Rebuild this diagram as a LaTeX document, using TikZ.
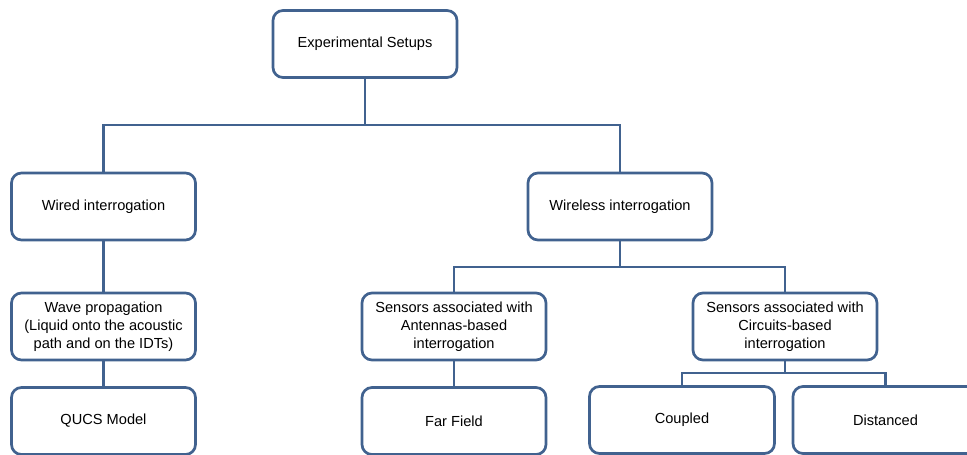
\documentclass[tikz,border=0pt]{standalone}
\usepackage{fontspec}
\setmainfont{Liberation Sans}
\definecolor{edgeblue}{HTML}{41628F}
\begin{document}
\begin{tikzpicture}[x=1pt,y=-1pt,
  box/.style={draw=edgeblue, line width=2.7pt, rounded corners=10pt, fill=white,
    minimum width=184pt, minimum height=67pt, align=center, inner sep=2pt,
    font=\fontsize{14.6pt}{18pt}\selectfont, text=black},
  link/.style={draw=edgeblue, line width=2.7pt}]
\useasboundingbox (0,0) rectangle (967,455);
\clip (0,0) rectangle (967,455);

% boxes
\node[box] (root) at (365,44) {Experimental Setups};
\node[box] (wired) at (103.5,206.5) {Wired interrogation};
\node[box] (wireless) at (620,206.5) {Wireless interrogation};
\node[box] (wave) at (103.5,326.5) {Wave propagation\\(Liquid onto the acoustic\\path and on the IDTs)};
\node[box] (ant) at (454,326.5) {Sensors associated with\\Antennas-based\\interrogation};
\node[box] (circ) at (785,326.5) {Sensors associated with\\Circuits-based\\interrogation};
\node[box] (qucs) at (103.5,421) {QUCS Model};
\node[box] (far) at (454,421) {Far Field};
\node[box, minimum width=185pt] (coupled) at (682,420) {Coupled};
\node[box, minimum width=185pt] (dist) at (885.5,420) {Distanced};

% junctions
\coordinate (j1) at (365,125);
\coordinate (j2) at (620,267);
\coordinate (j3) at (785,373);

% connectors
\draw[link] (root.south) -- (j1);
\draw[link] (wired.north) |- (j1) -| (wireless.north);
\draw[link] (wired.south) -- (wave.north);
\draw[link] (wave.south) -- (qucs.north);
\draw[link] (wireless.south) -- (j2);
\draw[link] (ant.north) |- (j2) -| (circ.north);
\draw[link] (ant.south) -- (far.north);
\draw[link] (circ.south) -- (j3);
\draw[link] (coupled.north) |- (j3) -| (dist.north);
\end{tikzpicture}
\end{document}
